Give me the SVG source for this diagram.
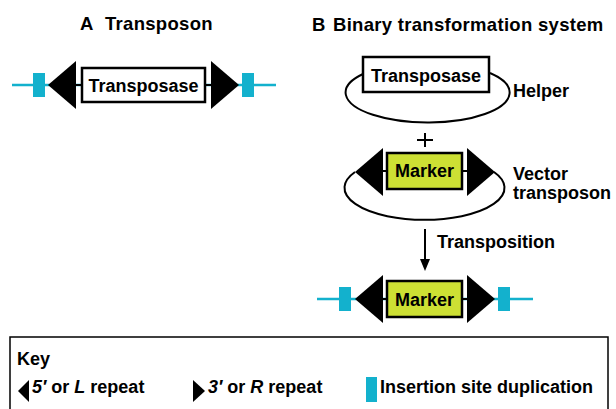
<svg xmlns="http://www.w3.org/2000/svg" width="616" height="409" viewBox="0 0 616 409">
<style>
text{font-family:"Liberation Sans",Arial,sans-serif;font-weight:bold;fill:#000}
.t{font-size:18px}
.title{font-size:18.5px;letter-spacing:0.3px}
.cy{fill:#13b1cd}
.cl{stroke:#13b1cd;stroke-width:2.5;fill:none}
.bx{fill:#fff;stroke:#000;stroke-width:2.5}
.gx{fill:#cde034;stroke:#000;stroke-width:2.5}
.lp{fill:none;stroke:#000;stroke-width:2}
.ln{stroke:#000;stroke-width:2;fill:none}
</style>
<defs>
<polygon id="tl" points="0,0 28,-24 28,24" fill="#000"/>
<polygon id="tr" points="0,-24 28,0 0,24" fill="#000"/>
</defs>

<text class="title" x="80" y="30">A<tspan x="105">Transposon</tspan></text>
<text class="title" x="312" y="31">B<tspan x="333">Binary transformation system</tspan></text>

<g id="transposonA">
<line class="cl" x1="12" y1="85" x2="276" y2="85"/>
<line class="ln" x1="74" y1="85" x2="212" y2="85"/>
<rect class="cy" x="33" y="73" width="12" height="24"/>
<rect class="cy" x="242" y="73" width="12" height="24"/>
<use href="#tl" x="48" y="85"/>
<use href="#tr" x="211" y="85"/>
<rect class="bx" x="82" y="68" width="123" height="34"/>
<text class="t" x="143.5" y="92" text-anchor="middle">Transposase</text>
</g>

<g id="helper">
<path class="lp" d="M363,74 A82,30 0 1 0 490,73"/>
<rect class="bx" x="363" y="57" width="126" height="35"/>
<text class="t" x="426" y="82" text-anchor="middle">Transposase</text>
<text class="t" x="513" y="97">Helper</text>
</g>

<g id="plus">
<line class="ln" x1="417" y1="140" x2="433" y2="140" stroke-width="2.5"/>
<line class="ln" x1="425" y1="133" x2="425" y2="147" stroke-width="2.5"/>
</g>

<g id="vector">
<path class="lp" d="M355,172 A80,32 0 1 0 494,172"/>
<line class="ln" x1="380" y1="171" x2="470" y2="171"/>
<use href="#tl" x="355" y="172"/>
<use href="#tr" x="467" y="172"/>
<rect class="gx" x="387" y="153" width="75" height="36"/>
<text class="t" x="424.5" y="177" text-anchor="middle">Marker</text>
<text class="t" x="513" y="180">Vector</text>
<text class="t" x="513" y="199">transposon</text>
</g>

<g id="connectors">
<line class="ln" x1="425" y1="229" x2="425" y2="262"/>
<polygon points="420,259 430,259 425,271" fill="#000"/>
<text class="t" x="437" y="248">Transposition</text>
</g>

<g id="inserted">
<line class="cl" x1="317" y1="299" x2="533" y2="299"/>
<line class="ln" x1="380" y1="299" x2="470" y2="299"/>
<rect class="cy" x="339" y="287" width="12" height="24"/>
<rect class="cy" x="498" y="287" width="12" height="24"/>
<use href="#tl" x="355" y="299"/>
<use href="#tr" x="467" y="299"/>
<rect class="gx" x="387" y="281" width="75" height="36"/>
<text class="t" x="424.5" y="306" text-anchor="middle">Marker</text>
</g>

<g id="key">
<rect x="10" y="337" width="598" height="85" fill="none" stroke="#000" stroke-width="1.5"/>
<text class="t" x="17" y="365">Key</text>
<polygon points="18,391 29,380 29,402" fill="#000"/>
<text class="t" x="32" y="393"><tspan font-style="italic">5′</tspan> or <tspan font-style="italic">L</tspan> repeat</text>
<polygon points="193,380 205,391 193,402" fill="#000"/>
<text class="t" x="208" y="393"><tspan font-style="italic">3′</tspan> or <tspan font-style="italic">R</tspan> repeat</text>
<rect class="cy" x="366" y="377" width="11" height="25"/>
<text class="t" x="380" y="393">Insertion site duplication</text>
</g>
</svg>
